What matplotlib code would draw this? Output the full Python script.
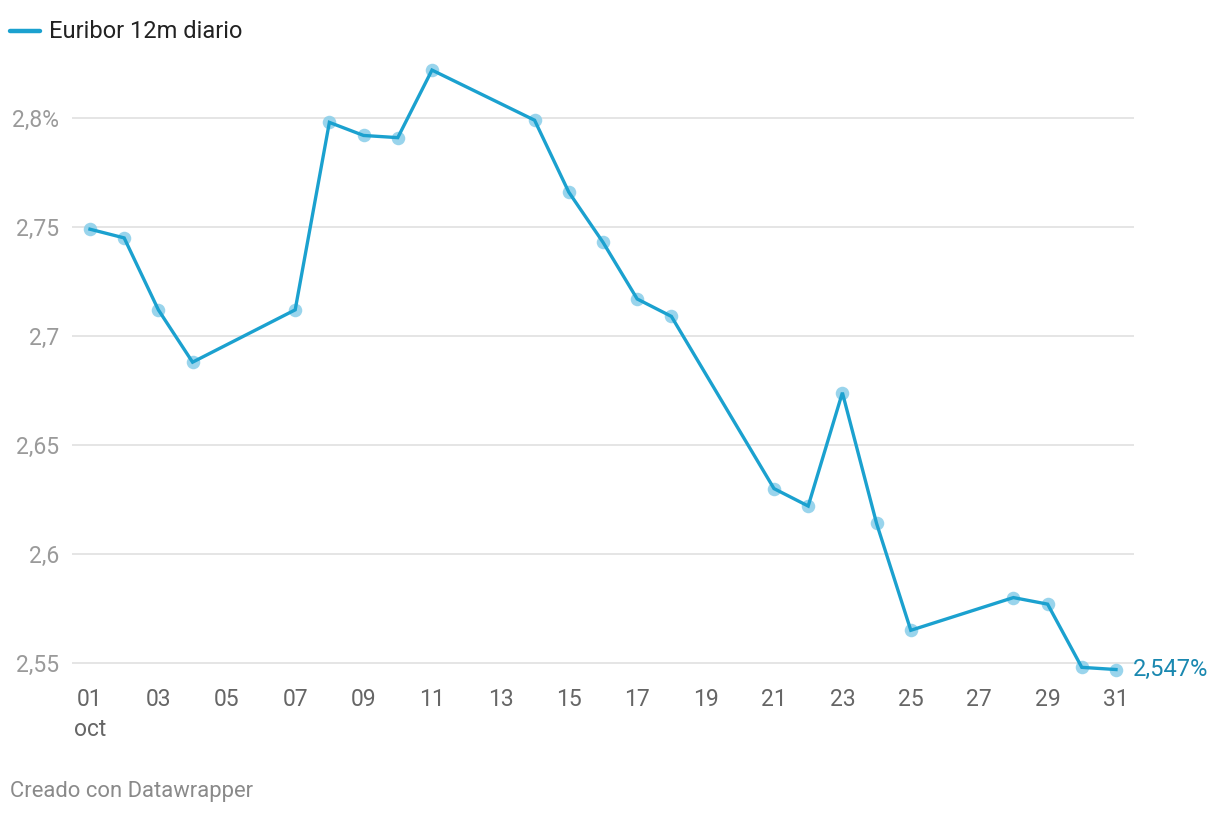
import matplotlib
matplotlib.use("Agg")
import matplotlib.pyplot as plt

plt.rcParams['font.family'] = ['Roboto', 'DejaVu Sans']

# days of October with a published value, and the 12m Euribor (%)
days = [1, 2, 3, 4, 7, 8, 9, 10, 11, 14, 15, 16, 17, 18,
        21, 22, 23, 24, 25, 28, 29, 30, 31]
euribor = [2.749, 2.745, 2.712, 2.688, 2.712, 2.798, 2.792, 2.791, 2.822,
           2.799, 2.766, 2.743, 2.717, 2.709, 2.630, 2.622, 2.674, 2.614,
           2.565, 2.580, 2.577, 2.548, 2.547]

y_ticks = [2.55, 2.6, 2.65, 2.7, 2.75, 2.8]
y_labels = ['2,55', '2,6', '2,65', '2,7', '2,75', '2,8%']
x_ticks = list(range(1, 32, 2))
x_labels = ['{:02d}'.format(d) for d in x_ticks]
x_labels[0] = '01\noct'

LINE = '#1ba1cf'
DOT = '#8ed0ea'

fig = plt.figure(figsize=(12.2, 8.16), dpi=100)
ax = fig.add_axes([0.059, 0.1608, 0.8705, 0.7747])

ax.scatter(days, euribor, s=95, color=DOT, alpha=0.9, zorder=2,
           linewidths=0)
ax.plot(days, euribor, color=LINE, lw=2.4, zorder=3,
        solid_joinstyle='miter')

ax.set_xlim(0.474, 31.526)
ax.set_ylim(2.54, 2.83)

ax.set_yticks(y_ticks)
ax.set_yticklabels(y_labels, fontsize=16.5, color='#9a9a9a')
ax.set_xticks(x_ticks)
ax.set_xticklabels(x_labels, fontsize=16.5, color='#666666',
                   linespacing=1.4, va='top', ha='center')
ax.tick_params(axis='both', length=0)
ax.tick_params(axis='y', pad=9)
ax.tick_params(axis='x', pad=2)

ax.grid(axis='y', color='#e0e0e0', lw=1.2)
ax.set_axisbelow(True)
for s in ax.spines.values():
    s.set_visible(False)

# value label at the last point
ax.annotate('2,547%', (days[-1], euribor[-1]), xytext=(12, 0),
            textcoords='offset points', va='center', ha='left',
            fontsize=17, color='#1a88b0')

# legend
fig.add_artist(plt.Line2D([10 / 1220, 40 / 1220], [1 - 31 / 816, 1 - 31 / 816],
                          color=LINE, lw=3.2, solid_capstyle='round'))
fig.text(49 / 1220, 1 - 31 / 816, 'Euribor 12m diario', fontsize=17,
         color='#222222', va='center', ha='left')

fig.text(10 / 1220, 1 - 792 / 816, 'Creado con Datawrapper', fontsize=15.8,
         color='#8a8a8a', va='center', ha='left')

fig.savefig('out.png', dpi=100, facecolor='white')
